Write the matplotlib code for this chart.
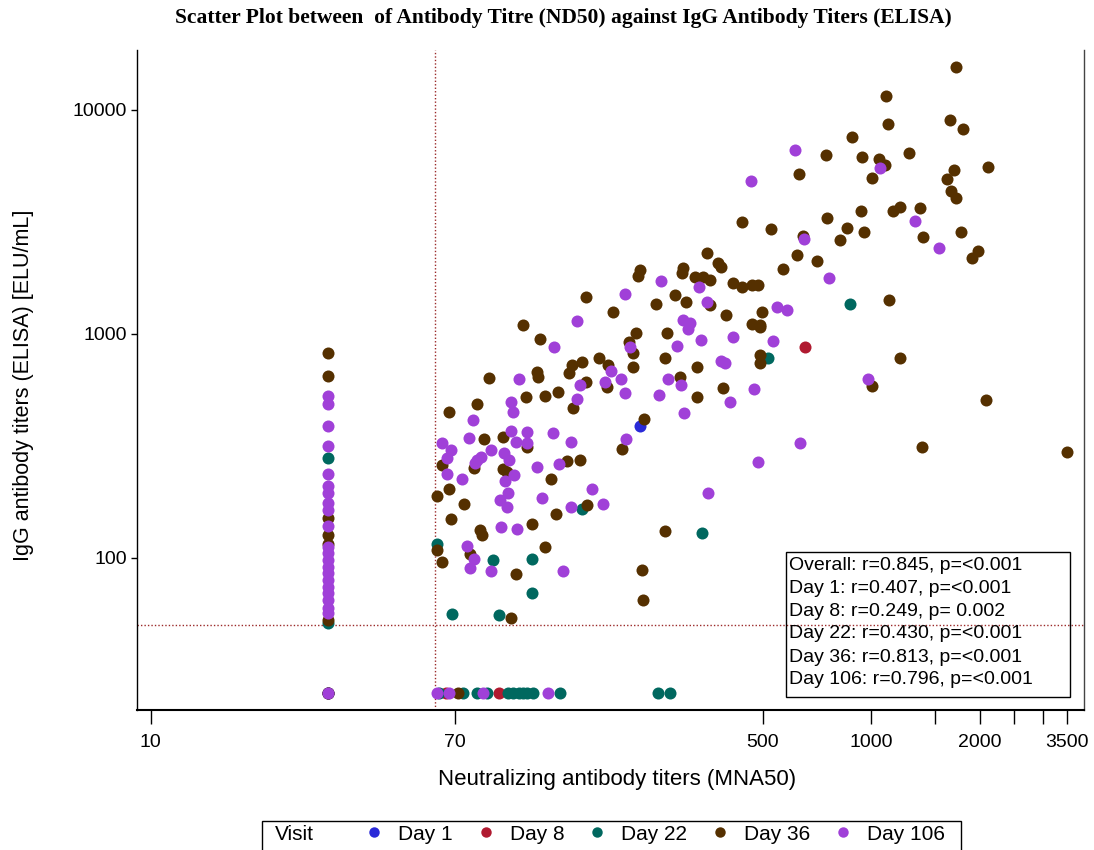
import matplotlib
matplotlib.use("Agg")
import matplotlib.pyplot as plt
from matplotlib.lines import Line2D
from matplotlib.patches import Rectangle

plt.rcParams['font.family'] = ['Liberation Sans', 'DejaVu Sans']

# ---------------- data ----------------
visits = ["Day 1", "Day 8", "Day 22", "Day 36", "Day 106"]
colors = ["#2a2ad8", "#b01a30", "#00685f", "#553000", "#a040d8"]

day1_x = [31, 228]
day1_y = [25, 388]

day8_x = [31, 66, 92.6, 656]
day8_y = [25, 25, 25, 875]

day22_x = [62.3, 157, 89.1, 114, 114, 68.5, 92.6, 340, 518, 875,
           31, 31, 31, 63, 73.6, 80.5, 86, 98.1, 101, 105, 108, 111, 115, 137, 256, 276]
day22_y = [115, 166, 98, 99, 69.8, 56.2, 55.7, 129, 782, 1361,
           279, 51, 25, 25, 25, 25, 25, 25, 25, 25, 25, 25, 25, 25, 25, 25]

day36_x = [350, 376, 383, 228, 225, 300, 299, 324, 341, 357, 414, 438, 467, 485,
           161, 286, 306, 253, 357, 192, 396, 498, 467, 492, 492, 108, 222, 271,
           120, 213, 218, 492, 492, 268, 175, 157, 148, 145, 186, 218, 329, 118,
           119, 86.9, 161, 185, 294, 388, 135, 124, 110, 329, 149, 67.3, 80.5, 234,
           203, 84.1, 95, 111, 143, 155, 64.3, 78.8, 95, 97.5, 129, 62.3, 67.3, 74,
           163, 68.1, 133, 114, 82, 83, 62.3, 64.3, 76.9, 124, 268, 231, 103, 233,
           100, 71.3,
           1100, 1115, 885, 750, 944, 1052, 1093, 1275, 631, 1006, 438, 527, 755,
           938, 1150, 1204, 1368, 857, 957, 820, 647, 1394, 622, 708, 570, 1722,
           1656, 1800, 2114, 1702, 1627, 1667, 1722, 1778, 1982, 1909, 1122, 1204,
           1006, 1386, 2084, 3500,
           31, 31, 31, 31, 31, 31, 31]
day36_y = [2300, 2075, 1990, 1930, 1815, 1970, 1872, 1795, 1795, 1742, 1690, 1622, 1655, 1655,
           1462, 1493, 1390, 1361, 1346, 1253, 1215, 1253, 1110, 1097, 1075, 1097, 1009, 1009,
           950, 921, 822, 805, 743, 782, 782, 750, 727, 670, 727, 713, 713, 677,
           643, 637, 611, 580, 643, 574, 551, 529, 523, 523, 467, 449, 487, 418,
           307, 340, 347, 313, 271, 274, 260, 252, 250, 242, 225, 189, 203, 174,
           172, 149, 157, 142, 133, 127, 109, 96, 104, 112, 132, 88.4, 84.9, 65,
           54, 25,
           11550, 8660, 7570, 6290, 6170, 6040, 5680, 6430, 5180, 4970, 3160, 2944, 3300,
           3540, 3540, 3690, 3650, 2970, 2850, 2630, 2740, 2710, 2250, 2120, 1950, 15560,
           9020, 8220, 5570, 5400, 4920, 4350, 4040, 2850, 2350, 2185, 1420, 782,
           587, 313, 507, 297,
           822, 649, 151, 127, 116, 53, 25]

day106_x = [261, 207, 333, 350, 152, 300, 314, 310, 337, 414, 132, 289, 214, 383,
            393, 105, 190, 182, 202, 155, 273, 297, 207, 258, 473, 405, 152, 303,
            100, 101, 78.4, 64.3, 76.4, 100, 111, 131, 103, 111, 147, 209, 68.1, 66.4,
            88, 80.5, 82.6, 79.4, 95.7, 98.7, 66.4, 73.1, 102, 96.2, 118, 136, 485,
            98.1, 93.2, 97.5, 122, 168, 180, 147, 352, 93.8, 104, 75.5, 78.8, 76.9,
            88, 139, 62.3, 67.3, 83.6, 127,
            615, 464, 1059, 1324, 651, 1545, 548, 585, 534, 636, 764, 981,
            31, 31, 31, 31, 31, 31, 31, 31, 31, 31, 31, 31, 31, 31, 31, 31, 31, 31,
            31, 31, 31, 31]
day106_y = [1725, 1510, 1622, 1390, 1143, 1155, 1120, 1052, 940, 970, 875, 884, 875, 757,
            743, 630, 684, 611, 630, 592, 630, 592, 545, 534, 568, 497, 513, 444,
            497, 449, 413, 326, 343, 369, 365, 361, 330, 326, 330, 340, 303, 279,
            303, 274, 282, 266, 294, 274, 237, 225, 235, 221, 255, 263, 268,
            195, 182, 169, 185, 203, 174, 169, 195, 138, 135, 113, 99, 90,
            87.5, 87.5, 25, 25, 25, 25,
            6630, 4820, 5510, 3190, 2655, 2420, 1320, 1280, 931, 326, 1778, 630,
            528, 487, 388, 316, 237, 210, 195, 176, 164, 139, 112, 105, 98, 91,
            86, 80, 74, 70, 65, 60, 57, 25]

stats_lines = ["Overall: r=0.845, p=<0.001",
               "Day 1: r=0.407, p=<0.001",
               "Day 8: r=0.249, p= 0.002",
               "Day 22: r=0.430, p=<0.001",
               "Day 36: r=0.813, p=<0.001",
               "Day 106: r=0.796, p=<0.001"]

xticks = [10, 70, 500, 1000, 1500, 2000, 2500, 3000, 3500]
xticklabels = ["10", "70", "500", "1000", "", "2000", "", "", "3500"]
yticks = [100, 1000, 10000]
yticklabels = ["100", "1000", "10000"]

x_cut = 61.5
y_cut = 50

# ---------------- figure ----------------
W, H = 1094, 850
fig = plt.figure(figsize=(W / 100, H / 100), dpi=100)
ax = fig.add_axes([0.1252, 0.1647, 0.8657, 0.7765])

series = [(day1_x, day1_y), (day8_x, day8_y), (day22_x, day22_y),
          (day36_x, day36_y), (day106_x, day106_y)]
for (xs, ys), c, lab in zip(series, colors, visits):
    ax.scatter(xs, ys, s=75, color=c, linewidths=0, label=lab, zorder=3)

ax.set_xscale('log')
ax.set_yscale('log')
ax.set_xlim(9.15, 3900)
ax.set_ylim(20.96, 18500)

ax.axvline(x_cut, color='#9b2a2a', linestyle=(0, (1, 1.5)), linewidth=1, zorder=2)
ax.axhline(y_cut, color='#9b2a2a', linestyle=(0, (1, 1.5)), linewidth=1, zorder=2)

ax.set_xticks(xticks)
ax.set_xticklabels(xticklabels)
ax.set_yticks(yticks)
ax.set_yticklabels(yticklabels)
ax.minorticks_off()
ax.tick_params(axis='x', length=10, width=1, pad=7, labelsize=14, direction='out')
ax.tick_params(axis='y', length=4, width=1, pad=3, labelsize=14, direction='out')

ax.spines['top'].set_visible(False)
ax.spines['bottom'].set_linewidth(1.5)
ax.spines['left'].set_linewidth(1)
ax.spines['right'].set_linewidth(1)
ax.spines['right'].set_color('#444444')

ax.set_xlabel("Neutralizing antibody titers (MNA50)", fontsize=16)
ax.xaxis.set_label_coords(0.507, -0.09)
ax.set_ylabel("IgG antibody titers (ELISA) [ELU/mL]", fontsize=15.5)
ax.yaxis.set_label_coords(-0.109, 0.492)

fig.text(0.515, 0.979, "Scatter Plot between  of Antibody Titre (ND50) against IgG Antibody Titers (ELISA)",
         ha='center', va='center', fontsize=15.5, fontweight='bold',
         family=['Liberation Serif', 'DejaVu Serif'])

# stats box
ax.add_patch(Rectangle((0.6853, 0.0197), 0.2999, 0.2197, transform=ax.transAxes,
                       fill=False, edgecolor='black', linewidth=1, zorder=4))
line_y = [0.2182, 0.1848, 0.1485, 0.1152, 0.0788, 0.0455]
for t, yy in zip(stats_lines, line_y):
    ax.text(0.6885, yy, t, transform=ax.transAxes, ha='left', va='center',
            fontsize=14, zorder=5)

# bottom legend: frame + "Visit" title + entries
fig.add_artist(Rectangle((262 / W, 1 - 852 / H), (961 - 262) / W, (852 - 821) / H,
                         transform=fig.transFigure, fill=False, edgecolor='black',
                         linewidth=1))
fig.text(275 / W, 1 - 834 / H, "Visit", ha='left', va='center', fontsize=15)
handles = [Line2D([], [], linestyle='none', marker='o', markersize=7.5,
                  markerfacecolor=c, markeredgewidth=0) for c in colors]
leg = fig.legend(handles, visits, ncol=5, loc='center left',
                 bbox_to_anchor=(366 / W, 1 - 834 / H),
                 frameon=False, fontsize=15, borderpad=0, borderaxespad=0,
                 handlelength=0.8, handletextpad=0.74, columnspacing=1.19)

fig.savefig("out.png", dpi=100)
